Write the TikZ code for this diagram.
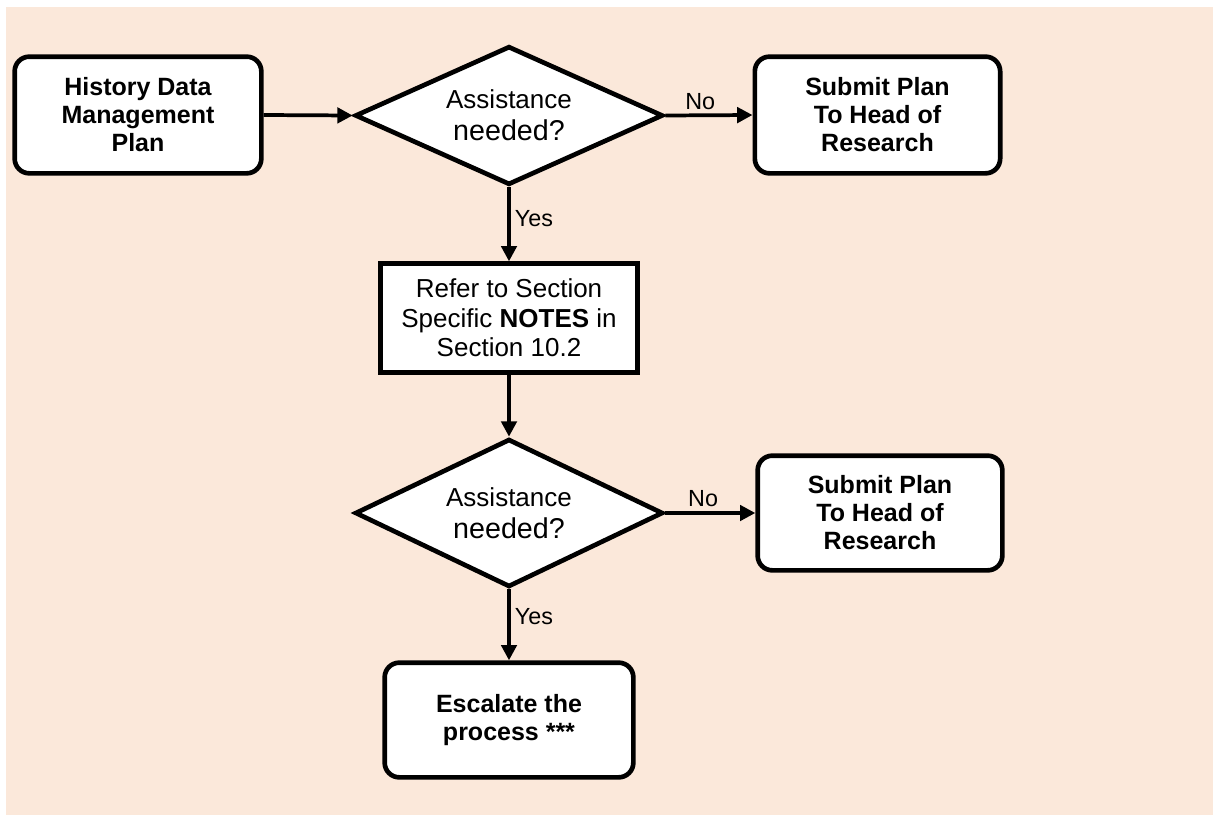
\documentclass[tikz,border=0pt]{standalone}
\usepackage{fontspec}
\setmainfont{Liberation Sans}
\usetikzlibrary{shapes.geometric,arrows.meta}
\definecolor{bgpeach}{RGB}{251,232,218}
\tikzset{
  rbox/.style={draw=black, fill=white, line width=3.5pt, rounded corners=11pt,
    align=center, inner sep=0pt, font=\bfseries\fontsize{18.75}{21}\selectfont},
  sbox/.style={draw=black, fill=white, line width=3.5pt,
    align=center, inner sep=0pt, font=\fontsize{19.5}{22}\selectfont},
  dec/.style={draw=black, fill=white, line width=3.5pt, shape=diamond, aspect=2.2,
    inner sep=0pt, align=center, minimum width=231pt,
    font=\fontsize{19.5}{24}\selectfont},
  conn/.style={line width=2.8pt, -{Triangle[length=11.5pt,width=11.5pt]}},
  lbl/.style={font=\fontsize{17.5}{19}\selectfont, inner sep=3pt}
}
\begin{document}
\begin{tikzpicture}[x=0.75pt,y=-0.75pt]
\useasboundingbox (0,0) rectangle (1213,814);
\fill[bgpeach] (6,7) rectangle (1214,815);
\node[rbox, minimum width=185pt, minimum height=87.5pt] (plan) at (138,115) {History Data\\Management\\Plan};
\node[dec, minimum height=104pt] (d1) at (509,115.5) {Assistance\\{\fontsize{21.5}{24}\selectfont needed?}};
\node[rbox, minimum width=184pt, minimum height=87.5pt] (sub1) at (877.5,115) {Submit Plan\\To Head of\\Research};
\node[sbox, minimum width=192.5pt, minimum height=81.5pt] (refer) at (509,318) {Refer to Section\\Specific \textbf{NOTES} in\\Section 10.2};
\node[dec, minimum height=111pt] (d2) at (509,513) {Assistance\\{\fontsize{21.5}{24}\selectfont needed?}};
\node[rbox, minimum width=183.5pt, minimum height=86pt] (sub2) at (880,513) {Submit Plan\\To Head of\\Research};
\node[rbox, minimum width=186.5pt, minimum height=86pt] (esc) at (509,720) {Escalate the\\process ***};
\draw[conn] (plan.east) -- (d1.west);
\draw[conn] (d1.east) -- node[lbl, above, pos=0.4] {No} (sub1.west);
\draw[conn] (d1.south) -- node[lbl, right, pos=0.42] {Yes} (refer.north);
\draw[conn] (refer.south) -- (d2.north);
\draw[conn] (d2.east) -- node[lbl, above, pos=0.42] {No} (sub2.west);
\draw[conn] (d2.south) -- node[lbl, right, pos=0.38] {Yes} (esc.north);
\end{tikzpicture}
\end{document}
